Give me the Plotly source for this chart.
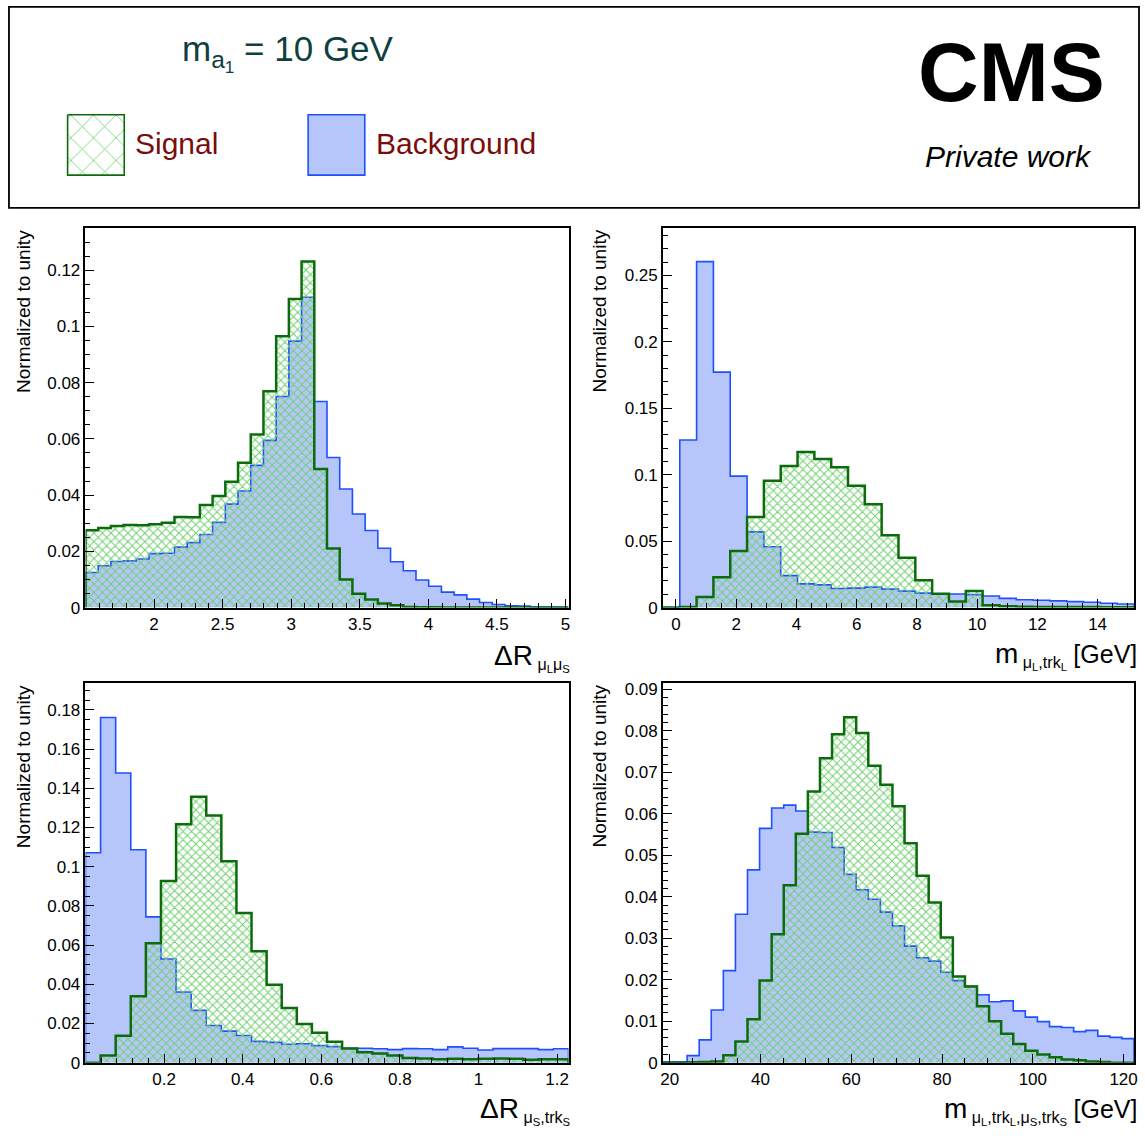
import numpy as np
import plotly.graph_objects as go

W, H = 1145, 1140
FONT = "Liberation Sans, Arial, Helvetica, sans-serif"

# ---------------- data (normalized bin contents) ----------------
# Panel 1: Delta R(mu_L, mu_S)
dr_mumu_bins = (1.5, 5.022, 38)
dr_mumu_signal = [0.0275, 0.0283, 0.0290, 0.0294, 0.0293, 0.0296, 0.0302, 0.0322, 0.0321, 0.0365,
                  0.0397, 0.0448, 0.0515, 0.0616, 0.0770, 0.0965, 0.1098, 0.1231, 0.0493, 0.0210,
                  0.0100, 0.0049, 0.0029, 0.0014, 0.0008, 0.0002, 0.0001, 0.0001, 0.0, 0.0,
                  0.0, 0.0, 0.0, 0.0, 0.0, 0.0, 0.0, 0.0]
dr_mumu_background = [0.0125, 0.0149, 0.0164, 0.0166, 0.0173, 0.0192, 0.0193, 0.0215, 0.0231, 0.0260,
                      0.0303, 0.0368, 0.0415, 0.0506, 0.0595, 0.0751, 0.0948, 0.1104, 0.0733, 0.0534,
                      0.0422, 0.0333, 0.0274, 0.0211, 0.0163, 0.0131, 0.0098, 0.0076, 0.0055, 0.0045,
                      0.0030, 0.0018, 0.0011, 0.0006, 0.0005, 0.0002, 0.0002, 0.0001]

# Panel 2: m(mu_L, trk_L)
m_mutrk_bins = (-0.43, 15.21, 28)
m_mutrk_signal = [0.0, 0.0005, 0.0079, 0.0228, 0.0426, 0.0681, 0.0954, 0.1066, 0.1170, 0.1118,
                  0.1056, 0.0917, 0.0778, 0.0545, 0.0374, 0.0206, 0.0104, 0.0045, 0.0124, 0.0017,
                  0.0010, 0.0007, 0.0005, 0.0005, 0.0005, 0.0005, 0.0002, 0.0002]
m_mutrk_background = [0.0, 0.1261, 0.2604, 0.1772, 0.0989, 0.0570, 0.0458, 0.0240, 0.0178, 0.0171,
                      0.0144, 0.0146, 0.0154, 0.0139, 0.0124, 0.0109, 0.0102, 0.0102, 0.0097, 0.0087,
                      0.0069, 0.0059, 0.0055, 0.0050, 0.0045, 0.0040, 0.0032, 0.0027]

# Panel 3: Delta R(mu_S, trk_S)
dr_mutrk_bins = (0.0, 1.229, 32)
dr_mutrk_signal = [0.0, 0.0037, 0.0138, 0.0339, 0.0609, 0.0927, 0.1216, 0.1357, 0.1261, 0.1028,
                   0.0764, 0.0569, 0.0398, 0.0279, 0.0198, 0.0153, 0.0107, 0.0072, 0.0054, 0.0047,
                   0.0037, 0.0024, 0.0022, 0.0018, 0.0020, 0.0018, 0.0020, 0.0022, 0.0020, 0.0015,
                   0.0018, 0.0018]
dr_mutrk_background = [0.1071, 0.1761, 0.1478, 0.1086, 0.0744, 0.0529, 0.0361, 0.0267, 0.0190, 0.0161,
                       0.0139, 0.0109, 0.0104, 0.0094, 0.0097, 0.0087, 0.0082, 0.0074, 0.0074, 0.0071,
                       0.0067, 0.0072, 0.0071, 0.0067, 0.0081, 0.0074, 0.0065, 0.0072, 0.0072, 0.0072,
                       0.0067, 0.0071]

# Panel 4: m(mu_L, trk_L, mu_S, trk_S)
m_4body_bins = (18.5, 122.3, 39)
m_4body_signal = [0.0, 0.0, 0.0001, 0.0002, 0.0003, 0.0018, 0.0051, 0.0105, 0.0198, 0.0310,
                  0.0428, 0.0552, 0.0654, 0.0734, 0.0792, 0.0833, 0.0795, 0.0716, 0.0670, 0.0618,
                  0.0529, 0.0451, 0.0386, 0.0302, 0.0208, 0.0184, 0.0136, 0.0100, 0.0070, 0.0045,
                  0.0029, 0.0020, 0.0013, 0.0008, 0.0006, 0.0003, 0.0002, 0.0, 0.0]
m_4body_background = [0.0002, 0.0002, 0.0017, 0.0055, 0.0127, 0.0222, 0.0358, 0.0465, 0.0565, 0.0614,
                      0.0621, 0.0607, 0.0556, 0.0555, 0.0519, 0.0454, 0.0417, 0.0394, 0.0363, 0.0330,
                      0.0281, 0.0253, 0.0245, 0.0218, 0.0198, 0.0184, 0.0164, 0.0147, 0.0149, 0.0125,
                      0.0110, 0.0099, 0.0087, 0.0085, 0.0075, 0.0078, 0.0064, 0.0061, 0.0058]

# tick labels
p1_xticks = [2, 2.5, 3, 3.5, 4, 4.5, 5]
p1_xlabels = ["2", "2.5", "3", "3.5", "4", "4.5", "5"]
p1_yticks = [0, 0.02, 0.04, 0.06, 0.08, 0.1, 0.12]
p1_ylabels = ["0", "0.02", "0.04", "0.06", "0.08", "0.1", "0.12"]
p2_xticks = [0, 2, 4, 6, 8, 10, 12, 14]
p2_xlabels = ["0", "2", "4", "6", "8", "10", "12", "14"]
p2_yticks = [0, 0.05, 0.1, 0.15, 0.2, 0.25]
p2_ylabels = ["0", "0.05", "0.1", "0.15", "0.2", "0.25"]
p3_xticks = [0.2, 0.4, 0.6, 0.8, 1.0, 1.2]
p3_xlabels = ["0.2", "0.4", "0.6", "0.8", "1", "1.2"]
p3_yticks = [0, 0.02, 0.04, 0.06, 0.08, 0.1, 0.12, 0.14, 0.16, 0.18]
p3_ylabels = ["0", "0.02", "0.04", "0.06", "0.08", "0.1", "0.12", "0.14", "0.16", "0.18"]
p4_xticks = [20, 40, 60, 80, 100, 120]
p4_xlabels = ["20", "40", "60", "80", "100", "120"]
p4_yticks = [0, 0.01, 0.02, 0.03, 0.04, 0.05, 0.06, 0.07, 0.08, 0.09]
p4_ylabels = ["0", "0.01", "0.02", "0.03", "0.04", "0.05", "0.06", "0.07", "0.08", "0.09"]

legend_labels = ["Signal", "Background"]

# ---------------- styles ----------------
BLUE_FILL = "#b7c6fa"
BLUE_LINE = "#1f50ff"
GREEN_LINE = "#0c6c0c"
GREEN_HATCH = "#6fd06f"


def px_x(p):
    return p / W


def px_y(p):
    return 1 - p / H


def step_xy(binspec, vals):
    lo, hi, n = binspec
    e = np.linspace(lo, hi, n + 1)
    v = np.asarray(vals, dtype=float)
    x = np.concatenate([[e[0]], e[:-1], [e[-1]], [e[-1]]])
    y = np.concatenate([[0.0], v, [v[-1]], [0.0]])
    return x, y


fig = go.Figure()

panels = [
    dict(bins=dr_mumu_bins, sig=dr_mumu_signal, bkg=dr_mumu_background, ymax=0.1352,
         xt=p1_xticks, xl=p1_xlabels, yt=p1_yticks, yl=p1_ylabels, xminor=0.1, yminor=0.005,
         xdom=(83, 569), ydom=(228, 612)),
    dict(bins=m_mutrk_bins, sig=m_mutrk_signal, bkg=m_mutrk_background, ymax=0.286,
         xt=p2_xticks, xl=p2_xlabels, yt=p2_yticks, yl=p2_ylabels, xminor=0.5, yminor=0.01,
         xdom=(664, 1138), ydom=(228, 612)),
    dict(bins=dr_mutrk_bins, sig=dr_mutrk_signal, bkg=dr_mutrk_background, ymax=0.1938,
         xt=p3_xticks, xl=p3_xlabels, yt=p3_yticks, yl=p3_ylabels, xminor=0.04, yminor=0.005,
         xdom=(83, 569), ydom=(688, 1072)),
    dict(bins=m_4body_bins, sig=m_4body_signal, bkg=m_4body_background, ymax=0.0916,
         xt=p4_xticks, xl=p4_xlabels, yt=p4_yticks, yl=p4_ylabels, xminor=5, yminor=0.002,
         xdom=(664, 1138), ydom=(688, 1072)),
]

layout_axes = {}
for i, p in enumerate(panels, start=1):
    xa = "x" if i == 1 else f"x{i}"
    ya = "y" if i == 1 else f"y{i}"
    bx, by = step_xy(p["bins"], p["bkg"])
    fig.add_trace(go.Scatter(x=bx, y=by, mode="lines", line=dict(color=BLUE_LINE, width=1.6, shape="hv"),
                             fill="tozeroy", fillcolor=BLUE_FILL, xaxis=xa, yaxis=ya,
                             showlegend=False, hoverinfo="skip"))
    sx, sy = step_xy(p["bins"], p["sig"])
    fig.add_trace(go.Scatter(x=sx, y=sy, mode="lines", line=dict(color=GREEN_LINE, width=2.5, shape="hv"),
                             fill="tozeroy", fillcolor="rgba(0,0,0,0)",
                             fillpattern=dict(shape="x", fgcolor=GREEN_HATCH, bgcolor="rgba(0,0,0,0)",
                                              size=6, solidity=0.3, fillmode="replace"),
                             xaxis=xa, yaxis=ya, showlegend=False, hoverinfo="skip"))
    common = dict(showline=True, linecolor="black", linewidth=1.5, mirror=True, ticks="inside",
                  tickcolor="black", tickwidth=1, showgrid=False, zeroline=False,
                  tickfont=dict(family=FONT, size=17, color="black"))
    lo, hi, _ = p["bins"]
    layout_axes["xaxis" if i == 1 else f"xaxis{i}"] = dict(
        domain=[px_x(p["xdom"][0]), px_x(p["xdom"][1])], range=[lo, hi],
        anchor=ya, tickmode="array", tickvals=p["xt"], ticktext=p["xl"], ticklen=9,
        minor=dict(ticks="inside", ticklen=5, tickmode="linear", tick0=0, dtick=p["xminor"],
                   tickcolor="black", tickwidth=1),
        **common)
    layout_axes["yaxis" if i == 1 else f"yaxis{i}"] = dict(
        domain=[px_y(p["ydom"][1]), px_y(p["ydom"][0])], range=[0, p["ymax"]],
        anchor=xa, tickmode="array", tickvals=p["yt"], ticktext=p["yl"], ticklen=9,
        minor=dict(ticks="inside", ticklen=5, tickmode="linear", tick0=0, dtick=p["yminor"],
                   tickcolor="black", tickwidth=1),
        **common)

# legend signal patch (hatched) on an overlay pixel axis
fig.add_trace(go.Scatter(x=[65, 122, 122, 65, 65], y=[114, 114, 175, 175, 114], mode="lines",
                         line=dict(color=GREEN_LINE, width=1.6), fill="toself", fillcolor="rgba(0,0,0,0)",
                         fillpattern=dict(shape="x", fgcolor=GREEN_HATCH, bgcolor="rgba(0,0,0,0)",
                                          size=16, solidity=0.1, fillmode="replace"),
                         xaxis="x5", yaxis="y5", showlegend=False, hoverinfo="skip"))
layout_axes["xaxis5"] = dict(domain=[0, 1], range=[0, W], visible=False, anchor="y5", fixedrange=True)
layout_axes["yaxis5"] = dict(domain=[0, 1], range=[H, 0], visible=False, anchor="x5", fixedrange=True)

shapes = [
    dict(type="rect", xref="paper", yref="paper", x0=px_x(6), x1=px_x(1143), y0=px_y(208), y1=px_y(5),
         line=dict(color="black", width=1.8), fillcolor="rgba(0,0,0,0)", layer="above"),
    dict(type="rect", xref="paper", yref="paper", x0=px_x(307), x1=px_x(364), y0=px_y(175), y1=px_y(114),
         line=dict(color=BLUE_LINE, width=1.6), fillcolor=BLUE_FILL),
]

ann = []
TEAL = "#0f3f3f"
MAROON = "#7a0c0c"
ann.append(dict(text="m<sub>a<sub>1</sub></sub> = 10 GeV", x=px_x(178), y=px_y(52), xanchor="left",
                yanchor="middle", font=dict(family=FONT, size=35, color=TEAL)))
ann.append(dict(text=legend_labels[0], x=px_x(131), y=px_y(143), xanchor="left", yanchor="middle",
                font=dict(family=FONT, size=30, color=MAROON)))
ann.append(dict(text=legend_labels[1], x=px_x(373), y=px_y(143), xanchor="left", yanchor="middle",
                font=dict(family=FONT, size=30, color=MAROON)))
ann.append(dict(text="<b>CMS</b>", x=px_x(1015), y=px_y(71), xanchor="center", yanchor="middle",
                font=dict(family=FONT, size=84, color="black")))
ann.append(dict(text="<i>Private work</i>", x=px_x(1012), y=px_y(156), xanchor="center", yanchor="middle",
                font=dict(family=FONT, size=30, color="black")))

for xc, yt in [(20, 228), (600, 228), (20, 688), (600, 688)]:
    ann.append(dict(text="Normalized to unity", x=px_x(xc), y=px_y(yt), xanchor="center", yanchor="top",
                    textangle=-90, font=dict(family=FONT, size=19, color="black")))

BIG = "<span style='font-size:28px'>{}</span>"
UNIT = "<span style='font-size:25px'>[GeV]</span>"
xtitles = [
    (BIG.format("ΔR") + "<sub> μ<sub>L</sub>μ<sub>S</sub></sub>", 573, 662),
    (BIG.format("m") + "<sub> μ<sub>L</sub>,trk<sub>L</sub></sub> " + UNIT, 1143, 660),
    (BIG.format("ΔR") + "<sub> μ<sub>S</sub>,trk<sub>S</sub></sub>", 573, 1120),
    (BIG.format("m") + "<sub> μ<sub>L</sub>,trk<sub>L</sub>,μ<sub>S</sub>,trk<sub>S</sub></sub> "
     + UNIT, 1143, 1120),
]
for t, xr, yc in xtitles:
    ann.append(dict(text=t, x=px_x(xr), y=px_y(yc), xanchor="right", yanchor="middle",
                    font=dict(family=FONT, size=23, color="black")))

for a in ann:
    a.update(xref="paper", yref="paper", showarrow=False)

fig.update_layout(width=W, height=H, margin=dict(l=0, r=0, t=0, b=0), paper_bgcolor="white",
                  plot_bgcolor="rgba(0,0,0,0)", showlegend=False, shapes=shapes, annotations=ann,
                  font=dict(family=FONT), **layout_axes)

fig.write_html("out.html")
